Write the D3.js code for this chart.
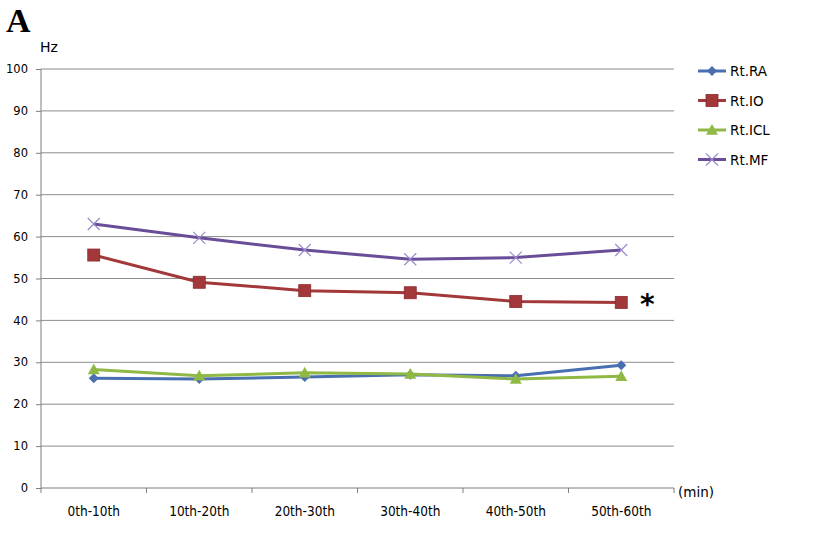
<!DOCTYPE html>
<html><head><meta charset="utf-8">
<script src="https://cdn.jsdelivr.net/npm/d3@7"></script>
<style>body{margin:0;background:#fff}svg{display:block}text{font-family:"DejaVu Sans",Verdana,sans-serif}</style>
</head><body><svg id="c" width="816" height="541"></svg>
<script>
const categories = ["0th-10th","10th-20th","20th-30th","30th-40th","40th-50th","50th-60th"];
const seriesNames = ["Rt.RA","Rt.IO","Rt.ICL","Rt.MF"];
const ra  = [26.2, 26.0, 26.5, 27.0, 26.8, 29.3];
const io  = [55.6, 49.1, 47.1, 46.6, 44.5, 44.3];
const icl = [28.3, 26.8, 27.5, 27.2, 26.0, 26.7];
const mf  = [63.0, 59.7, 56.8, 54.6, 55.0, 56.8];
const yTicks = [0,10,20,30,40,50,60,70,80,90,100];
const colors = ["#4a6fb0","#a3383a","#8fb944","#6a4d98"];
const markers = ["diamond","square","triangle","cross"];
const data = [ra, io, icl, mf];

const svg = d3.select("#c");
const x = d3.scaleBand().domain(categories).range([41, 674]);
const y = d3.scaleLinear().domain([0,100]).range([488, 69]);

// gridlines
svg.append("g").selectAll("line").data(yTicks.filter(d=>d>0)).join("line")
  .attr("x1",41).attr("x2",674).attr("y1",d=>y(d)).attr("y2",d=>y(d))
  .attr("stroke","#8c8c8c").attr("stroke-width",1);

// y axis
const ya = svg.append("g").attr("transform","translate(41,0)")
  .call(d3.axisLeft(y).tickValues(yTicks).tickSize(5).tickPadding(8));
ya.selectAll("path,line").attr("stroke","#7f7f7f");
ya.selectAll("text").attr("font-size",11.5).attr("fill","#000");
ya.select(".domain").attr("d","M0,69V488");

// x axis
const xa = svg.append("g").attr("transform","translate(0,488)")
  .call(d3.axisBottom(x).tickSize(0).tickPadding(18));
xa.select(".domain").attr("stroke","#7f7f7f").attr("d","M41,0H674");
xa.selectAll("text").attr("font-size",13.5).attr("fill","#000")
  .style("font-family","'DejaVu Sans Condensed','DejaVu Sans',sans-serif");
const bounds = categories.map(c=>x(c)).concat([x(categories[categories.length-1])+x.bandwidth()]);
svg.append("g").selectAll("line").data(bounds).join("line")
  .attr("x1",d=>d).attr("x2",d=>d).attr("y1",488).attr("y2",493).attr("stroke","#7f7f7f");

function marker(g, type, color, cx, cy, s){
  if(type==="diamond"){
    g.append("path").attr("d",`M${cx},${cy-s}L${cx+s},${cy}L${cx},${cy+s}L${cx-s},${cy}Z`).attr("fill",color);
  } else if(type==="square"){
    g.append("rect").attr("x",cx-s).attr("y",cy-s).attr("width",2*s).attr("height",2*s).attr("fill",color).attr("stroke","#8a2a2e").attr("stroke-width",0.8);
  } else if(type==="triangle"){
    g.append("path").attr("d",`M${cx},${cy-s}L${cx+s},${cy+s*0.8}L${cx-s},${cy+s*0.8}Z`).attr("fill",color);
  } else {
    g.append("path").attr("d",`M${cx-s},${cy-s}L${cx+s},${cy+s}M${cx+s},${cy-s}L${cx-s},${cy+s}`).attr("stroke","#9a8ccc").attr("stroke-width",1.2);
  }
}
const sizes=[5,6,6,6];
const line = d3.line().x((d,i)=>x(categories[i])+x.bandwidth()/2).y(d=>y(d));
data.forEach((vals,k)=>{
  const g = svg.append("g");
  g.append("path").datum(vals).attr("d",line).attr("fill","none").attr("stroke",colors[k]).attr("stroke-width",3);
  vals.forEach((v,i)=>marker(g, markers[k], colors[k], x(categories[i])+x.bandwidth()/2, y(v), sizes[k]));
});

// legend
seriesNames.forEach((n,k)=>{
  const ly = 71 + k*29.5;
  const g = svg.append("g");
  g.append("line").attr("x1",698).attr("x2",726).attr("y1",ly).attr("y2",ly).attr("stroke",colors[k]).attr("stroke-width",3);
  marker(g, markers[k], colors[k], 712, ly, sizes[k]);
  g.append("text").attr("x",730).attr("y",ly+5).attr("font-size",13.5).text(n);
});

// texts
svg.append("text").attr("x",6).attr("y",32).style("font-family","'Liberation Serif','DejaVu Serif',serif").attr("font-weight","bold").attr("font-size",34).text("A");
svg.append("text").attr("x",40).attr("y",52).attr("font-size",14).text("Hz");
svg.append("text").attr("x",678).attr("y",497).attr("font-size",13.5).text("(min)");
svg.append("text").attr("x",640).attr("y",314).attr("font-size",28).attr("font-weight","bold").text("*");
</script></body></html>
